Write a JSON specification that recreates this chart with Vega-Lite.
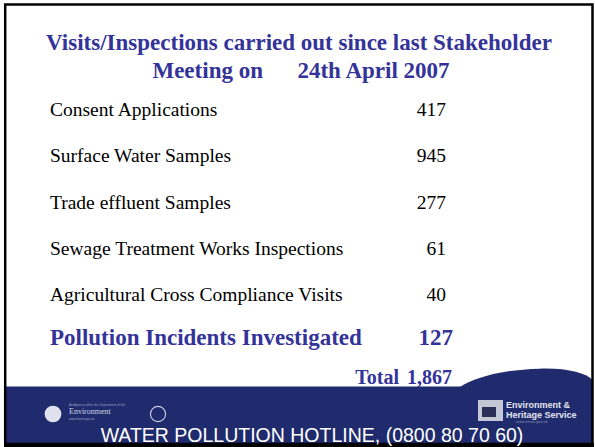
{
  "$schema": "https://vega.github.io/schema/vega-lite/v6.json",
  "width": 595,
  "height": 447,
  "autosize": {"type": "fit", "contains": "padding"},
  "padding": 0,
  "background": "white",
  "config": {"view": {"stroke": null}},
  "datasets": {
    "items": [
      {"label": "Consent Applications", "value": 417, "kind": "normal"},
      {"label": "Surface Water Samples", "value": 945, "kind": "normal"},
      {"label": "Trade effluent Samples", "value": 277, "kind": "normal"},
      {"label": "Sewage Treatment Works Inspections", "value": 61, "kind": "normal"},
      {"label": "Agricultural Cross Compliance Visits", "value": 40, "kind": "normal"},
      {"label": "Pollution Incidents Investigated", "value": 127, "kind": "highlight"},
      {"label": "Total", "value": 1867, "kind": "total"}
    ],
    "one": [{}]
  },
  "resolve": {"scale": {"y": "independent"}},
  "layer": [
    {
      "data": {"name": "one"},
      "mark": {"type": "rect", "color": "#1f2b6c"},
      "encoding": {"x": {"value": 5}, "x2": {"value": 592}, "y": {"value": 386.5}, "y2": {"value": 444}}
    },
    {
      "data": {"name": "one"},
      "mark": {"type": "point", "shape": "M-0.943,0 C-0.75,-0.12 -0.4,-0.245 0.2,-0.262 C0.6,-0.272 0.85,-0.2 0.95,-0.1 L0.95,0.3 L-0.943,0.3 Z", "filled": true, "opacity": 1, "color": "#1f2b6c", "strokeWidth": 0},
      "encoding": {"x": {"value": 526}, "y": {"value": 387}, "size": {"value": 19600}}
    },
    {
      "data": {"name": "one"},
      "mark": {"type": "rect", "fill": null, "filled": false, "stroke": "black", "strokeWidth": 2.5},
      "encoding": {"x": {"value": 5.2}, "x2": {"value": 592.5}, "y": {"value": 4.5}, "y2": {"value": 444}}
    },
    {
      "data": {"name": "one"},
      "mark": {"type": "rect", "color": "black"},
      "encoding": {"x": {"value": 4}, "x2": {"value": 594}, "y": {"value": 443.2}, "y2": {"value": 447}}
    },
    {
      "data": {"name": "one"},
      "mark": {"type": "text", "text": "Visits/Inspections carried out since last Stakeholder", "font": "Liberation Serif", "fontWeight": "bold", "fontSize": 23, "color": "#333399", "align": "center", "baseline": "middle"},
      "encoding": {"x": {"value": 299}, "y": {"value": 43}}
    },
    {
      "data": {"name": "one"},
      "mark": {"type": "text", "text": "Meeting on\u00a0\u00a0\u00a0\u00a0\u00a0\u00a024th April 2007", "font": "Liberation Serif", "fontWeight": "bold", "fontSize": 23, "color": "#333399", "align": "center", "baseline": "middle"},
      "encoding": {"x": {"value": 301}, "y": {"value": 71}}
    },
    {
      "data": {"name": "items"},
      "transform": [{"filter": "datum.kind === 'normal'"}],
      "mark": {"type": "text", "font": "Liberation Serif", "fontSize": 19.5, "color": "black", "align": "left", "baseline": "middle"},
      "encoding": {
        "y": {"field": "label", "type": "nominal", "sort": null, "axis": null, "scale": {"type": "point", "padding": 0, "domain": ["Consent Applications", "Surface Water Samples", "Trade effluent Samples", "Sewage Treatment Works Inspections", "Agricultural Cross Compliance Visits"], "range": [110, 295]}},
        "x": {"value": 50},
        "text": {"field": "label"}
      }
    },
    {
      "data": {"name": "items"},
      "transform": [{"filter": "datum.kind === 'normal'"}],
      "mark": {"type": "text", "font": "Liberation Serif", "fontSize": 19.5, "color": "black", "align": "right", "baseline": "middle"},
      "encoding": {
        "y": {"field": "label", "type": "nominal", "sort": null, "axis": null, "scale": {"type": "point", "padding": 0, "domain": ["Consent Applications", "Surface Water Samples", "Trade effluent Samples", "Sewage Treatment Works Inspections", "Agricultural Cross Compliance Visits"], "range": [110, 295]}},
        "x": {"value": 446},
        "text": {"field": "value", "type": "quantitative", "format": "d"}
      }
    },
    {
      "data": {"name": "items"},
      "transform": [{"filter": "datum.kind === 'highlight'"}],
      "mark": {"type": "text", "font": "Liberation Serif", "fontWeight": "bold", "fontSize": 23, "color": "#333399", "align": "left", "baseline": "middle"},
      "encoding": {
        "y": {"field": "label", "type": "nominal", "sort": null, "axis": null, "scale": {"type": "point", "padding": 0, "domain": ["Pollution Incidents Investigated", "Total"], "range": [338, 378]}},
        "x": {"value": 50},
        "text": {"field": "label"}
      }
    },
    {
      "data": {"name": "items"},
      "transform": [{"filter": "datum.kind === 'highlight'"}],
      "mark": {"type": "text", "font": "Liberation Serif", "fontWeight": "bold", "fontSize": 23, "color": "#333399", "align": "right", "baseline": "middle"},
      "encoding": {
        "y": {"field": "label", "type": "nominal", "sort": null, "axis": null, "scale": {"type": "point", "padding": 0, "domain": ["Pollution Incidents Investigated", "Total"], "range": [338, 378]}},
        "x": {"value": 453},
        "text": {"field": "value", "type": "quantitative", "format": "d"}
      }
    },
    {
      "data": {"name": "items"},
      "transform": [{"filter": "datum.kind === 'total'"}],
      "mark": {"type": "text", "font": "Liberation Serif", "fontWeight": "bold", "fontSize": 20, "color": "#333399", "align": "right", "baseline": "middle"},
      "encoding": {
        "y": {"field": "label", "type": "nominal", "sort": null, "axis": null, "scale": {"type": "point", "padding": 0, "domain": ["Pollution Incidents Investigated", "Total"], "range": [338, 378]}},
        "x": {"value": 399},
        "text": {"field": "label"}
      }
    },
    {
      "data": {"name": "items"},
      "transform": [{"filter": "datum.kind === 'total'"}],
      "mark": {"type": "text", "font": "Liberation Serif", "fontWeight": "bold", "fontSize": 20, "color": "#333399", "align": "right", "baseline": "middle"},
      "encoding": {
        "y": {"field": "label", "type": "nominal", "sort": null, "axis": null, "scale": {"type": "point", "padding": 0, "domain": ["Pollution Incidents Investigated", "Total"], "range": [338, 378]}},
        "x": {"value": 452},
        "text": {"field": "value", "type": "quantitative", "format": ","}
      }
    },
    {
      "data": {"name": "one"},
      "mark": {"type": "point", "shape": "circle", "filled": true, "opacity": 1, "color": "#dfe2ec", "strokeWidth": 0},
      "encoding": {"x": {"value": 53}, "y": {"value": 414}, "size": {"value": 280}}
    },
    {
      "data": {"name": "one"},
      "mark": {"type": "text", "text": "Environment", "font": "Liberation Serif", "fontSize": 8, "color": "#d0d4e4", "align": "left", "baseline": "middle"},
      "encoding": {"x": {"value": 69}, "y": {"value": 412}}
    },
    {
      "data": {"name": "one"},
      "mark": {"type": "text", "text": "An Agency within the Department of the", "font": "Liberation Sans", "fontSize": 3.2, "color": "#9aa0c0", "align": "left", "baseline": "middle"},
      "encoding": {"x": {"value": 69}, "y": {"value": 405}}
    },
    {
      "data": {"name": "one"},
      "mark": {"type": "text", "text": "www.doeni.gov.uk", "font": "Liberation Sans", "fontSize": 3.2, "color": "#9aa0c0", "align": "left", "baseline": "middle"},
      "encoding": {"x": {"value": 69}, "y": {"value": 419}}
    },
    {
      "data": {"name": "one"},
      "mark": {"type": "point", "shape": "circle", "filled": false, "opacity": 1, "color": "#c8cce0", "strokeWidth": 1.2},
      "encoding": {"x": {"value": 158}, "y": {"value": 414}, "size": {"value": 230}}
    },
    {
      "data": {"name": "one"},
      "mark": {"type": "rect", "color": "#c4c8d6"},
      "encoding": {"x": {"value": 478}, "x2": {"value": 503}, "y": {"value": 400}, "y2": {"value": 421}}
    },
    {
      "data": {"name": "one"},
      "mark": {"type": "rect", "color": "#2a2f55"},
      "encoding": {"x": {"value": 482}, "x2": {"value": 496}, "y": {"value": 407}, "y2": {"value": 417}}
    },
    {
      "data": {"name": "one"},
      "mark": {"type": "text", "text": "Environment &", "font": "Liberation Sans", "fontWeight": "bold", "fontSize": 9, "color": "#e4e6f0", "align": "left", "baseline": "middle"},
      "encoding": {"x": {"value": 506}, "y": {"value": 404.5}}
    },
    {
      "data": {"name": "one"},
      "mark": {"type": "text", "text": "Heritage Service", "font": "Liberation Sans", "fontWeight": "bold", "fontSize": 9, "color": "#e4e6f0", "align": "left", "baseline": "middle"},
      "encoding": {"x": {"value": 506}, "y": {"value": 415}}
    },
    {
      "data": {"name": "one"},
      "mark": {"type": "text", "text": "www.ehsni.gov.uk", "font": "Liberation Sans", "fontSize": 4, "color": "#8a90b0", "align": "left", "baseline": "middle"},
      "encoding": {"x": {"value": 516}, "y": {"value": 421.5}}
    },
    {
      "data": {"name": "one"},
      "mark": {"type": "text", "text": "WATER POLLUTION HOTLINE, (0800 80 70 60)", "font": "Liberation Sans", "fontSize": 19.5, "color": "white", "align": "center", "baseline": "alphabetic"},
      "encoding": {"x": {"value": 312}, "y": {"value": 441.5}}
    }
  ]
}
